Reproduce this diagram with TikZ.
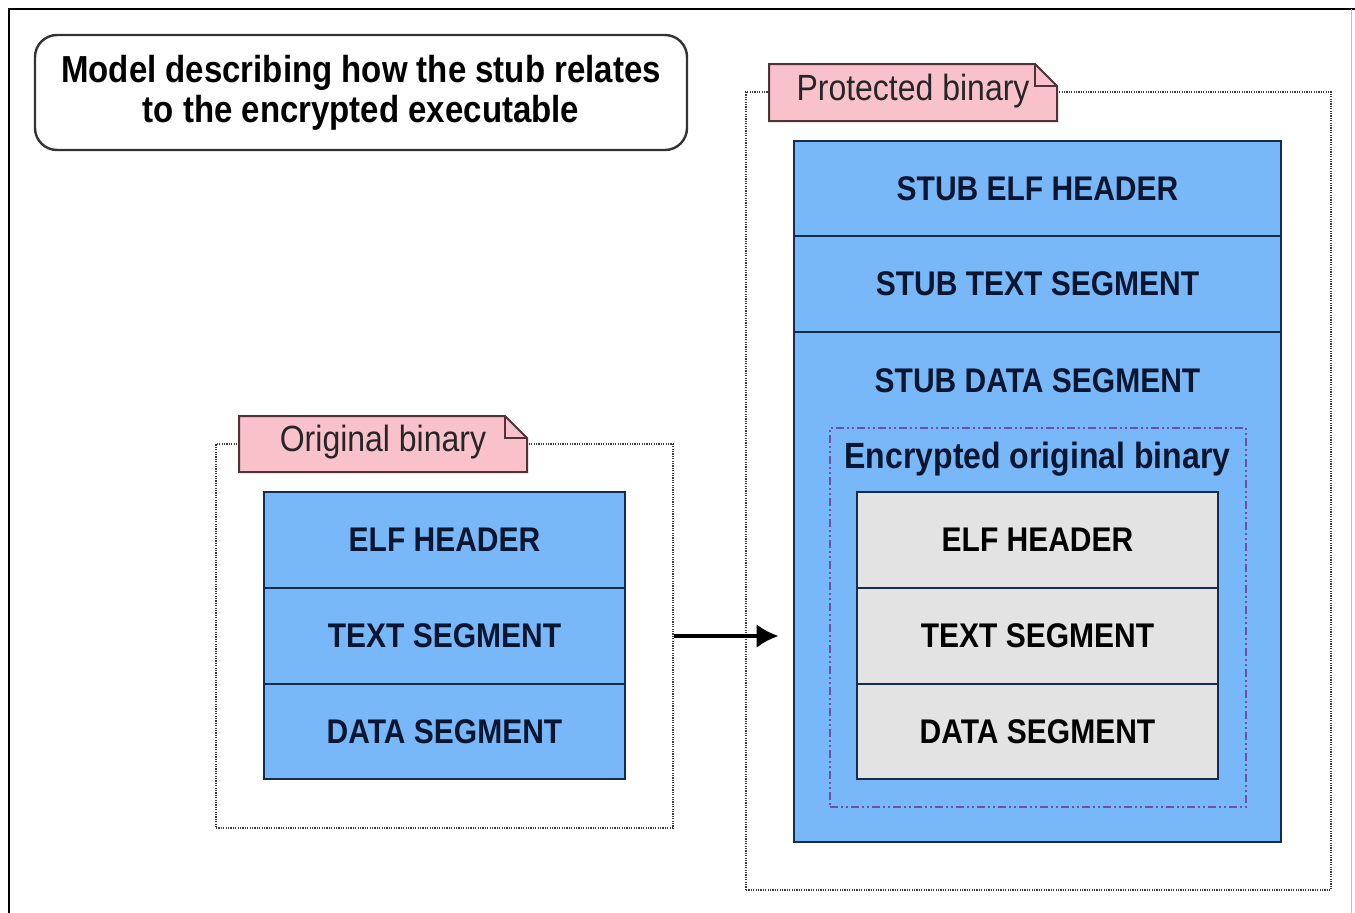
\documentclass[tikz,border=0pt]{standalone}
\usepackage{fontspec}
\usepackage{graphicx}
\setmainfont{Liberation Sans}
\usetikzlibrary{arrows.meta}
\definecolor{segblue}{RGB}{120,184,248}
\definecolor{segedge}{RGB}{22,44,78}
\definecolor{segtext}{RGB}{10,22,48}
\definecolor{encgray}{RGB}{227,227,227}
\definecolor{tagpink}{RGB}{249,193,202}
\definecolor{tagedge}{RGB}{80,50,55}
\definecolor{encline}{RGB}{110,80,165}
\definecolor{dotgray}{RGB}{60,60,60}
\newcommand{\tallt}[1]{\scalebox{1}[1.14]{#1}}
\tikzset{
  segbox/.style={draw=segedge, line width=2.8pt, fill=segblue, inner sep=0pt,
    text=segtext, font=\fontsize{30}{36}\selectfont\bfseries},
  graybox/.style={draw=segedge, line width=2.8pt, fill=encgray, inner sep=0pt,
    text=black, font=\fontsize{30}{36}\selectfont\bfseries},
  plain/.style={inner sep=0pt},
  dotbox/.style={draw=dotgray, line width=1.8pt, dash pattern=on 1.2pt off 1.2pt, inner sep=0pt},
  tagtext/.style={inner sep=0pt, text=black!85, font=\fontsize{32}{38}\selectfont},
  tagshape/.style={draw=tagedge, line width=2pt, fill=tagpink, line join=miter},
  encbox/.style={draw=encline, line width=2.4pt, dash pattern=on 8pt off 3pt on 2pt off 3pt on 2pt off 3pt, inner sep=0pt},
}
\begin{document}
\begin{tikzpicture}[x=1pt,y=-1pt]
\useasboundingbox (0,0) rectangle (1355,913);
% frame
\draw[line width=2.8pt, black] (9,913) -- (9,9) -- (1355,9);
\draw[line width=1pt, black!25] (1351,9) -- (1351,913);
% title
\node[draw=black!80, line width=2.4pt, rounded corners=22pt, minimum width=652pt, minimum height=115pt, inner sep=0pt,
  align=center, font=\fontsize{33}{40}\selectfont\bfseries] (title) at (361,92.5)
  {\tallt{Model describing how the stub relates}\\\tallt{to the encrypted executable}};
% outer dotted boxes
\node[dotbox, minimum width=457pt, minimum height=384pt] (origbox) at (444.5,636) {};
\node[dotbox, minimum width=585pt, minimum height=798pt] (protbox) at (1038.5,491) {};
% tags
\path[tagshape] (239,416) -- (505,416) -- (527,438) -- (527,472) -- (239,472) -- cycle;
\draw[tagedge, line width=1.5pt] (505,416) -- (505,438) -- (527,438);
\node[tagtext] (origtag) at (383,442) {\tallt{Original binary}};
\path[tagshape] (769,64) -- (1035,64) -- (1057,86) -- (1057,121) -- (769,121) -- cycle;
\draw[tagedge, line width=1.5pt] (1035,64) -- (1035,86) -- (1057,86);
\node[tagtext] (prottag) at (913,91) {\tallt{Protected binary}};
% original binary segments
\node[segbox, minimum width=361pt, minimum height=96pt] (oelf) at (444.5,540) {\tallt{ELF HEADER}};
\node[segbox, minimum width=361pt, minimum height=96pt] (otext) at (444.5,636) {\tallt{TEXT SEGMENT}};
\node[segbox, minimum width=361pt, minimum height=95pt] (odata) at (444.5,731.5) {\tallt{DATA SEGMENT}};
% stub segments
\node[segbox, minimum width=487pt, minimum height=95pt] (self) at (1037.5,188.5) {\tallt{STUB ELF HEADER}};
\node[segbox, minimum width=487pt, minimum height=96pt] (stext) at (1037.5,284) {\tallt{STUB TEXT SEGMENT}};
\node[segbox, minimum width=487pt, minimum height=510pt] (sdata) at (1037.5,587) {};
\node[plain, text=segtext, font=\fontsize{30}{36}\selectfont\bfseries] (sdatalbl) at (1037.5,381) {\tallt{STUB DATA SEGMENT}};
% encrypted
\node[encbox, minimum width=416pt, minimum height=379pt] (encbox) at (1038,617.5) {};
\node[plain, text=segtext, font=\fontsize{32}{36}\selectfont\bfseries] (enclbl) at (1037.5,459) {\tallt{Encrypted original binary}};
\node[graybox, minimum width=361pt, minimum height=96pt] (eelf) at (1037.5,540) {\tallt{ELF HEADER}};
\node[graybox, minimum width=361pt, minimum height=96pt] (etext) at (1037.5,636) {\tallt{TEXT SEGMENT}};
\node[graybox, minimum width=361pt, minimum height=95pt] (edata) at (1037.5,731.5) {\tallt{DATA SEGMENT}};
% arrow
\draw[line width=4pt, -{Latex[length=22pt,width=24pt]}, shorten >=14pt] (origbox.east) -- (origbox.east -| sdata.west);
\end{tikzpicture}
\end{document}
